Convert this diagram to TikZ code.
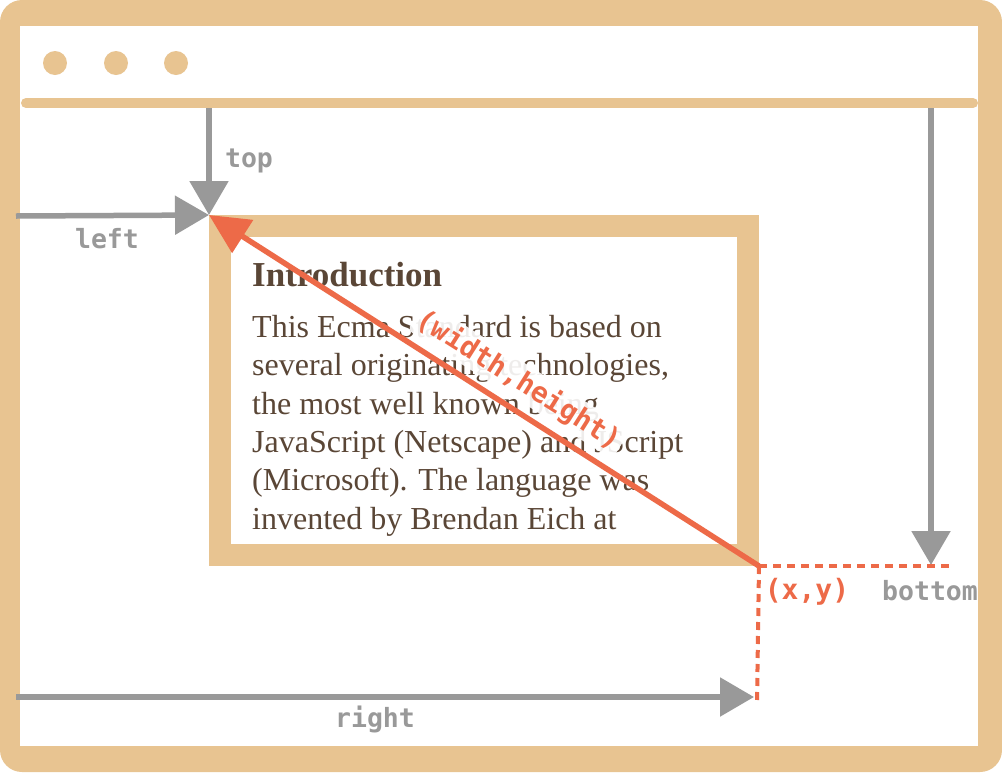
\documentclass[tikz,border=0pt]{standalone}
\usepackage{fontspec}
\setmainfont{Liberation Serif}
\newfontfamily\codefont{DejaVu Sans Mono}
\usetikzlibrary{arrows.meta,positioning}
\definecolor{framecolor}{RGB}{232,196,145}
\definecolor{arrowgray}{RGB}{153,153,153}
\definecolor{accentcolor}{RGB}{237,106,72}
\definecolor{textbrown}{RGB}{90,70,54}
\tikzset{
codelabel/.style={
  font=\fontsize{26.5}{30}\selectfont\codefont\bfseries,
  text=arrowgray,
  inner sep=0pt
},
accentlabel/.style={
  codelabel,
  font=\fontsize{28}{30}\selectfont\codefont\bfseries,
  text=accentcolor
},
grayarrow/.style={
  -{Triangle[length=34pt,width=38pt]},
  line width=5.5pt,
  draw=arrowgray
},
accentarrow/.style={
  -{Triangle[length=40pt,width=38pt]},
  line width=5.5pt,
  draw=accentcolor
},
guideline/.style={
  draw=accentcolor,
  line width=4pt,
  dash pattern=on 8pt off 6pt
},
boxframe/.style={
  draw=framecolor,
  line width=22pt,
  fill=white,
  minimum width=528pt,
  minimum height=329pt
}
}

\begin{document}
\begin{tikzpicture}[x=1pt, y=-1pt]
  \useasboundingbox (0,0) rectangle (1002,772);

  % Browser window
  \fill[framecolor, rounded corners=22pt] (0,0) rectangle (1002,772);
  \fill[white] (20,26) rectangle (978,746);
  \foreach \x in {55,116,176} {
    \fill[framecolor] (\x,63) circle (12pt);
  }
  \draw[framecolor, line width=10pt, line cap=round] (26,103) -- (973,103);

  % Element box
  \node[boxframe] (box) at (484,390.5) {};
  \node[font=\fontsize{35}{40}\selectfont\bfseries, text=textbrown, anchor=base west,
        inner sep=0pt] (heading) at (252,286) {Introduction};
  \node[font=\fontsize{32}{38.3}\selectfont, text=textbrown, anchor=base west,
        align=left, inner sep=0pt] (body) at (252,529) {
    This Ecma Standard is based on\\
    several originating technologies,\\
    the most well known being\\
    JavaScript (Netscape) and JScript\\
    (Microsoft). The language was\\
    invented by Brendan Eich at
  };

  % Anchor points
  \coordinate (topstart) at (209,108);
  \coordinate (leftstart) at (16,216);
  \coordinate (botstart) at (931,108);
  \coordinate (bottip) at (931,565);
  \coordinate (rightstart) at (16,697);
  \coordinate (righttip) at (754,697);
  \coordinate (dashend) at (950,566);
  \coordinate (dashdown) at (757,703);

  % Window offsets
  \draw[grayarrow] (topstart) -- (box.north west);
  \draw[grayarrow] (leftstart) -- (box.north west);
  \draw[grayarrow] (botstart) -- (bottip);
  \draw[grayarrow] (rightstart) -- (righttip);

  \node[codelabel] (toplabel) at (249,161) {top};
  \node[codelabel] (leftlabel) at (107,239) {left};
  \node[codelabel] (bottomlabel) at (930,591) {bottom};
  \node[codelabel] (rightlabel) at (375,719) {right};

  % Size and position
  \draw[guideline] (box.south east) -- (dashend);
  \draw[guideline] (box.south east) -- (dashdown);
  \draw[accentarrow] (box.south east) -- (box.north west);

  \node[accentlabel, fill=white, fill opacity=0.9, text opacity=1, inner sep=3pt,
        rounded corners=6pt, rotate=-32.3] (sizelabel) at (519,380) {(width,height)};
  \node[accentlabel] (poslabel) at (807,592) {(x,y)};
\end{tikzpicture}
\end{document}
